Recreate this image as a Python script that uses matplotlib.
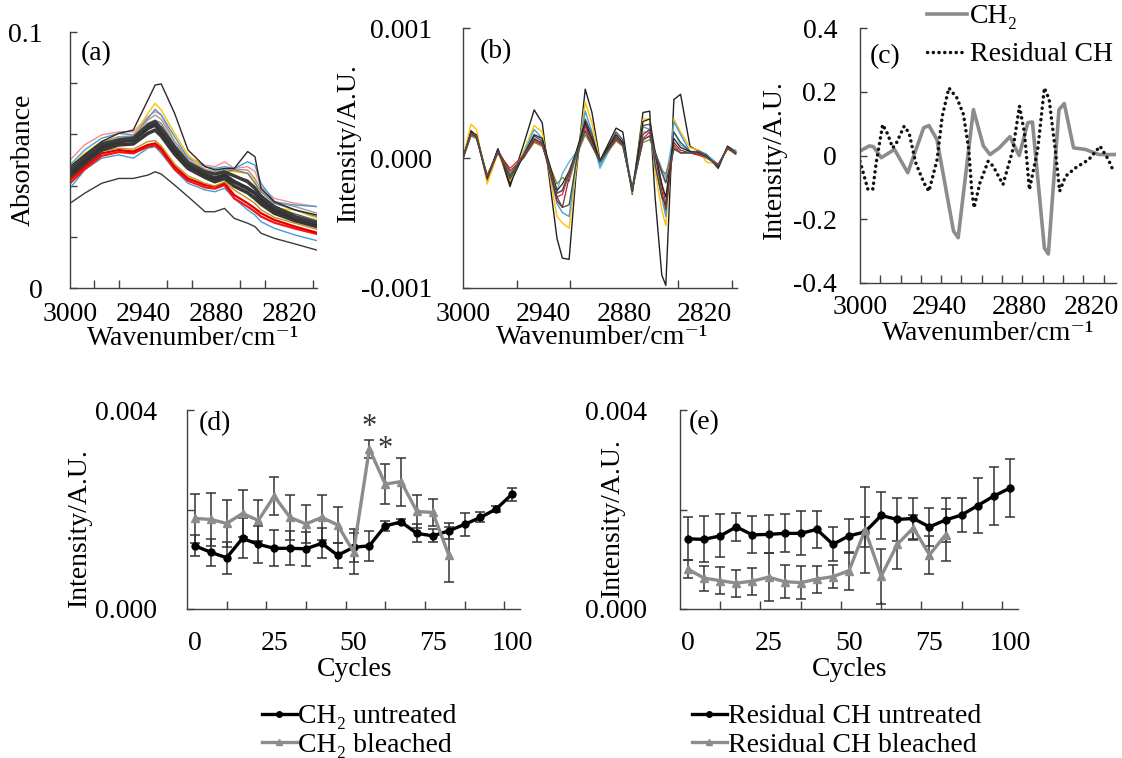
import matplotlib
matplotlib.use('Agg')
import matplotlib.pyplot as plt
import matplotlib.transforms as mtransforms
import numpy as np
from matplotlib.lines import Line2D

plt.rcParams['font.family'] = ['Liberation Serif', 'DejaVu Serif']
plt.rcParams['font.size'] = 20

# ---------------- (a) absorbance spectra ----------------
a_wn = [3000, 2988, 2974, 2960, 2948, 2936, 2930, 2925, 2914, 2903,
        2889, 2881, 2873, 2865, 2854, 2848, 2843, 2832, 2815, 2797]
a_black_top = [0.0474, 0.0520, 0.0572, 0.0604, 0.0617, 0.0734, 0.0793, 0.0797, 0.0682, 0.0539,
               0.0474, 0.0461, 0.0467, 0.0467, 0.0533, 0.0513, 0.0389, 0.0337, 0.0305, 0.0285]
a_pink = [0.0500, 0.0559, 0.0598, 0.0610, 0.0610, 0.0669, 0.0689, 0.0676, 0.0572, 0.0513,
          0.0480, 0.0474, 0.0493, 0.0467, 0.0474, 0.0455, 0.0396, 0.0350, 0.0331, 0.0318]
a_yellow = [0.0474, 0.0526, 0.0572, 0.0591, 0.0591, 0.0682, 0.0721, 0.0695, 0.0604, 0.0520,
            0.0461, 0.0448, 0.0461, 0.0454, 0.0448, 0.0422, 0.0337, 0.0311, 0.0305, 0.0272]
a_blue_top = [0.0480, 0.0539, 0.0585, 0.0604, 0.0598, 0.0663, 0.0698, 0.0676, 0.0591, 0.0507,
              0.0474, 0.0467, 0.0474, 0.0467, 0.0493, 0.0480, 0.0409, 0.0337, 0.0324, 0.0318]
a_gray_1 = [0.0461, 0.0513, 0.0559, 0.0585, 0.0591, 0.0643, 0.0656, 0.0643, 0.0559, 0.0493,
            0.0454, 0.0448, 0.0454, 0.0461, 0.0448, 0.0409, 0.0376, 0.0331, 0.0305, 0.0279]
a_gray_2 = [0.0454, 0.0507, 0.0555, 0.0576, 0.0581, 0.0630, 0.0643, 0.0628, 0.0549, 0.0484,
            0.0445, 0.0435, 0.0445, 0.0438, 0.0422, 0.0396, 0.0363, 0.0318, 0.0289, 0.0263]
a_gray_3 = [0.0467, 0.0520, 0.0568, 0.0591, 0.0594, 0.0656, 0.0676, 0.0659, 0.0572, 0.0500,
            0.0464, 0.0454, 0.0464, 0.0464, 0.0461, 0.0428, 0.0383, 0.0337, 0.0318, 0.0292]
a_black_1 = [0.0448, 0.0500, 0.0552, 0.0572, 0.0578, 0.0624, 0.0637, 0.0611, 0.0539, 0.0480,
             0.0441, 0.0428, 0.0441, 0.0415, 0.0389, 0.0370, 0.0344, 0.0305, 0.0272, 0.0246]
a_black_2 = [0.0461, 0.0510, 0.0563, 0.0578, 0.0585, 0.0637, 0.0650, 0.0624, 0.0552, 0.0490,
             0.0454, 0.0445, 0.0454, 0.0438, 0.0415, 0.0389, 0.0359, 0.0318, 0.0279, 0.0255]
a_black_3 = [0.0435, 0.0487, 0.0539, 0.0559, 0.0563, 0.0604, 0.0617, 0.0594, 0.0523, 0.0467,
             0.0432, 0.0415, 0.0428, 0.0398, 0.0372, 0.0350, 0.0328, 0.0292, 0.0263, 0.0240]
a_red_1 = [0.0422, 0.0474, 0.0526, 0.0539, 0.0533, 0.0559, 0.0565, 0.0546, 0.0474, 0.0428,
           0.0402, 0.0396, 0.0409, 0.0363, 0.0331, 0.0311, 0.0292, 0.0266, 0.0240, 0.0216]
a_red_2 = [0.0409, 0.0464, 0.0516, 0.0531, 0.0526, 0.0552, 0.0557, 0.0536, 0.0464, 0.0419,
           0.0393, 0.0388, 0.0402, 0.0350, 0.0318, 0.0298, 0.0279, 0.0255, 0.0232, 0.0211]
a_orange = [0.0428, 0.0484, 0.0533, 0.0546, 0.0542, 0.0572, 0.0576, 0.0555, 0.0484, 0.0438,
            0.0409, 0.0398, 0.0415, 0.0383, 0.0350, 0.0331, 0.0305, 0.0276, 0.0253, 0.0229]
a_blue_low = [0.0389, 0.0461, 0.0507, 0.0520, 0.0507, 0.0546, 0.0552, 0.0526, 0.0461, 0.0409,
              0.0383, 0.0376, 0.0390, 0.0350, 0.0305, 0.0285, 0.0259, 0.0233, 0.0207, 0.0185]
a_black_low = [0.0331, 0.0370, 0.0409, 0.0428, 0.0428, 0.0441, 0.0454, 0.0445, 0.0402, 0.0357,
               0.0298, 0.0298, 0.0311, 0.0272, 0.0253, 0.0240, 0.0214, 0.0194, 0.0172, 0.0148]

# ---------------- (b) second derivative spectra (x 0.001) ----------------
b_wn = [3000, 2994, 2990, 2982, 2974, 2965, 2955, 2947, 2941, 2930, 2926, 2921, 2916, 2909, 2904, 2898,
        2886, 2881, 2874, 2866, 2861, 2857, 2852, 2849, 2843, 2838, 2831, 2824, 2819, 2810, 2803, 2797]
b_black_big = [0, 0.21, 0.17, -0.17, 0.07, -0.22, 0.10, 0.37, 0.27, -0.62, -0.77, -0.78, -0.15, 0.53, 0.35, -0.02,
               0.23, 0.20, -0.28, 0.35, 0.36, -0.30, -0.90, -0.98, 0.45, 0.49, 0.09, 0.05, 0.03, -0.08, 0.09, 0.05]
b_yellow = [0, 0.26, 0.22, -0.20, 0.04, -0.18, 0.05, 0.25, 0.20, -0.45, -0.50, -0.54, -0.10, 0.43, 0.27, -0.03,
            0.17, 0.12, -0.27, 0.30, 0.30, -0.10, -0.40, -0.52, 0.30, 0.20, 0.08, 0.06, -0.03, -0.05, 0.07, 0.03]
b_blue = [0, 0.18, 0.16, -0.16, 0.05, -0.14, 0.03, 0.22, 0.15, -0.35, -0.42, -0.45, -0.05, 0.36, 0.20, -0.06,
          0.17, 0.12, -0.26, 0.24, 0.22, -0.05, -0.30, -0.45, 0.28, 0.18, 0.05, 0.05, 0.03, -0.05, 0.08, 0.06]
b_gray_main = [0, 0.19, 0.17, -0.14, 0.05, -0.14, 0.02, 0.15, 0.11, -0.27, -0.25, -0.11, 0.02, 0.21, 0.10, -0.03,
               0.15, 0.10, -0.24, 0.14, 0.17, 0.04, -0.11, -0.19, 0.07, 0.04, 0.04, 0.05, 0.01, -0.06, 0.08, 0.04]
b_red = [0, 0.18, 0.16, -0.16, 0.04, -0.08, 0.02, 0.13, 0.10, -0.30, -0.28, -0.12, 0.03, 0.24, 0.12, -0.02,
         0.14, 0.10, -0.25, 0.15, 0.20, 0.05, -0.20, -0.35, 0.10, 0.04, 0.04, 0.02, 0.01, -0.05, 0.07, 0.04]
b_darkred = [0, 0.20, 0.18, -0.15, 0.06, -0.10, 0.00, 0.14, 0.12, -0.33, -0.38, -0.15, 0.03, 0.26, 0.13, -0.02,
             0.16, 0.11, -0.25, 0.18, 0.22, 0.02, -0.25, -0.40, 0.12, 0.06, 0.04, 0.03, 0.01, -0.06, 0.08, 0.03]
b_black_2 = [0, 0.20, 0.17, -0.15, 0.07, -0.20, 0.02, 0.18, 0.15, -0.25, -0.20, -0.10, 0.04, 0.28, 0.15, -0.02,
             0.18, 0.12, -0.25, 0.28, 0.30, 0.05, -0.20, -0.30, 0.15, 0.08, 0.05, 0.04, 0.02, -0.07, 0.09, 0.04]
b_olive = [0, 0.17, 0.15, -0.13, 0.04, -0.12, 0.00, 0.12, 0.09, -0.20, -0.15, -0.18, 0.00, 0.18, 0.09, -0.03,
           0.13, 0.09, -0.22, 0.12, 0.14, 0.05, -0.10, -0.12, 0.08, 0.04, 0.04, 0.02, 0.00, -0.05, 0.07, 0.03]
b_blue_2 = [0, 0.17, 0.15, -0.14, 0.05, -0.12, 0.00, 0.14, 0.10, -0.25, -0.12, -0.03, 0.04, 0.25, 0.15, -0.08,
            0.16, 0.12, -0.22, 0.20, 0.20, 0.05, -0.08, -0.15, 0.20, 0.10, 0.05, 0.04, 0.03, -0.05, 0.08, 0.05]
b_black_3 = [0, 0.19, 0.16, -0.15, 0.06, -0.16, 0.02, 0.17, 0.13, -0.30, -0.38, -0.36, -0.05, 0.30, 0.18, -0.03,
             0.20, 0.14, -0.26, 0.25, 0.26, -0.05, -0.30, -0.36, 0.20, 0.12, 0.05, 0.04, 0.02, -0.07, 0.09, 0.04]

# ---------------- (c) loading spectra ----------------
c_ch2_wn = [3000, 2993, 2990, 2984, 2974, 2964, 2952, 2948, 2942, 2929.5, 2926, 2914.5, 2907, 2902,
            2895, 2887, 2880, 2873.5, 2870, 2861, 2858, 2850, 2846, 2839, 2830, 2820, 2808]
c_ch2 = [0.014, 0.030, 0.028, -0.007, 0.019, -0.054, 0.087, 0.094, 0.050, -0.237, -0.258, 0.144, 0.030, 0.003,
         0.024, 0.059, 0.000, 0.103, 0.105, -0.290, -0.309, 0.144, 0.163, 0.024, 0.019, 0.003, 0.003]
c_res_wn = [3000, 2996.5, 2994, 2990.3, 2987.8, 2982.9, 2979, 2975.4, 2973, 2966.7, 2963, 2958, 2951.8, 2948,
            2941.9, 2938, 2933, 2927, 2922, 2918, 2915.8, 2914, 2909.6, 2903.4, 2899.7, 2892.2, 2884.7, 2879.8,
            2876, 2872.3, 2866, 2861, 2857.4, 2852.5, 2849.5, 2845, 2837.6, 2827.6, 2819, 2812.7, 2810]
c_res = [-0.018, -0.070, -0.107, -0.105, -0.023, 0.097, 0.066, 0.024, 0.035, 0.092, 0.071, -0.023, -0.086, -0.112,
         -0.013, 0.123, 0.212, 0.181, 0.129, 0.019, -0.107, -0.164, -0.086, -0.018, -0.033, -0.091, 0.019, 0.155,
         0.071, -0.107, 0.019, 0.212, 0.176, 0.008, -0.112, -0.065, -0.039, -0.013, 0.029, -0.013, -0.039]

# ---------------- (d), (e) intensity vs cycles (x 0.001) ----------------
cycles = [0, 5, 10, 15, 20, 25, 30, 35, 40, 45, 50, 55, 60, 65, 70, 75, 80, 85, 90, 95, 100]
cycles_bleached = cycles[:17]
d_untreated = [1.27, 1.14, 1.03, 1.42, 1.30, 1.22, 1.22, 1.21, 1.32, 1.08, 1.24, 1.27, 1.67, 1.75,
               1.52, 1.47, 1.57, 1.70, 1.84, 2.01, 2.31]
d_untreated_err = [0.21, 0.27, 0.32, 0.40, 0.37, 0.36, 0.34, 0.34, 0.30, 0.25, 0.29, 0.30, 0.10, 0.05,
                   0.18, 0.13, 0.16, 0.23, 0.10, 0.07, 0.13]
d_bleached = [1.82, 1.80, 1.72, 1.92, 1.78, 2.27, 1.84, 1.71, 1.84, 1.69, 1.15, 3.22, 2.51, 2.56, 1.96, 1.94, 1.09]
d_bleached_err = [0.49, 0.54, 0.47, 0.48, 0.42, 0.39, 0.45, 0.38, 0.45, 0.36, 0.45, 0.18, 0.40, 0.48, 0.34, 0.27, 0.55]
e_untreated = [1.41, 1.40, 1.47, 1.65, 1.49, 1.50, 1.52, 1.52, 1.60, 1.30, 1.47, 1.55, 1.88, 1.80,
               1.82, 1.65, 1.79, 1.89, 2.08, 2.27, 2.43]
e_untreated_err = [0.43, 0.46, 0.43, 0.28, 0.37, 0.38, 0.38, 0.44, 0.37, 0.34, 0.34, 0.30, 0.48, 0.44,
                   0.42, 0.39, 0.45, 0.35, 0.55, 0.59, 0.58]
e_bleached = [0.80, 0.62, 0.57, 0.52, 0.56, 0.64, 0.55, 0.53, 0.60, 0.65, 0.77, 1.59, 0.66, 1.30, 1.63, 1.09, 1.49]
e_bleached_err = [0.18, 0.25, 0.27, 0.27, 0.27, 0.48, 0.33, 0.33, 0.27, 0.23, 0.38, 0.86, 0.55, 0.50, 0.25, 0.38, 0.52]
star_points = [(55, 3.64), (60, 3.20)]

W, H = 1122, 758
fig = plt.figure(figsize=(W / 100, H / 100), dpi=100)
AX_COL = '#404040'
WN_LABEL = 'Wavenumber/cm\u207b\u00b9'


def add_ax(left, top, right, bottom):
    return fig.add_axes([left / W, 1 - bottom / H, (right - left) / W, (bottom - top) / H])


def ftext(x, y, s, **kw):
    fig.text(x / W, 1 - y / H, s, ha=kw.pop('ha', 'center'), va=kw.pop('va', 'center'), **kw)


def style(ax, ypad, xpad):
    for s in ['top', 'right']:
        ax.spines[s].set_visible(False)
    for s in ['left', 'bottom']:
        ax.spines[s].set_color(AX_COL)
        ax.spines[s].set_linewidth(1)
    ax.tick_params(which='both', direction='in', color=AX_COL, width=1, labelsize=20)
    ax.tick_params(axis='y', which='major', length=5, pad=ypad)
    ax.tick_params(axis='x', which='major', length=0, pad=xpad)
    ax.tick_params(axis='x', which='minor', length=6)


def wn_axis(ax, x_end, tick_step):
    ax.set_xlim(3000, x_end)
    ax.set_xticks([3000, 2940, 2880, 2820])
    ax.set_xticklabels(['3000', '2940', '2880', '2820'])
    ax.set_xticks(np.arange(3000 - tick_step, x_end - 0.1, -tick_step), minor=True)


# (a)
ax_a = add_ax(70, 32, 317, 288)
a_lines = [(a_black_low, '#3a3a3a', 1.0), (a_blue_low, '#3f9fd6', 1.0), (a_red_2, '#ff1010', 1.6),
           (a_red_1, '#e00000', 1.6), (a_orange, '#c8901e', 1.0), (a_pink, '#ff8a8a', 1.0),
           (a_blue_top, '#3f9fd6', 1.0), (a_yellow, '#ffc000', 1.0), (a_gray_3, '#9a9a9a', 1.0),
           (a_gray_1, '#7a7a7a', 1.0), (a_gray_2, '#555555', 1.0), (a_black_top, '#2a2a2a', 1.0),
           (a_black_3, '#383838', 2.6), (a_black_1, '#333333', 2.8), (a_black_2, '#3c3c3c', 2.4)]
for vals, col, lw in a_lines:
    ax_a.plot(a_wn, vals, color=col, lw=lw)
ax_a.set_ylim(0, 0.1)
ax_a.set_yticks([0, 0.02, 0.04, 0.06, 0.08, 0.1])
ax_a.set_yticklabels(['0', '', '', '', '', '0.1'])
wn_axis(ax_a, 2797, 20)
style(ax_a, 19.5, 10)

# (b)
ax_b = add_ax(463, 28, 737, 288)
b_lines = [(b_black_big, '#222222', 1.0), (b_yellow, '#ffc000', 1.0), (b_blue, '#3f9fd6', 1.0),
           (b_blue_2, '#5aaee0', 0.9), (b_olive, '#8c7a2a', 0.9), (b_red, '#e8202a', 0.9),
           (b_darkred, '#8b2a2a', 0.9), (b_black_3, '#444444', 0.9), (b_black_2, '#222222', 0.9),
           (b_gray_main, '#505050', 1.2)]
for vals, col, lw in b_lines:
    ax_b.plot(b_wn, np.array(vals) * 1e-3, color=col, lw=lw)
ax_b.set_ylim(-0.001, 0.001)
ax_b.set_yticks([-0.001, 0, 0.001])
ax_b.set_yticklabels(['-0.001', '0.000', '0.001'])
wn_axis(ax_b, 2796, 40)
style(ax_b, 22, 10)

# (c)
ax_c = add_ax(860, 28, 1116, 283)
l1, = ax_c.plot(c_ch2_wn, c_ch2, color='#8c8c8c', lw=2.6, solid_joinstyle='round')
l2, = ax_c.plot(c_res_wn, c_res, color='#111111', lw=2.5, linestyle=(0, (0.05, 1.6)),
                dash_capstyle='round')
ax_c.set_ylim(-0.4, 0.4)
ax_c.set_yticks([-0.4, -0.2, 0, 0.2, 0.4])
ax_c.set_yticklabels(['-0.4', '-0.2', '0', '0.2', '0.4'])
wn_axis(ax_c, 2807, 15.3)
style(ax_c, 16.5, 9)
# keep the last wavenumber label inside the figure, as in the original
last_lab = ax_c.get_xticklabels()[-1]
last_lab.set_transform(last_lab.get_transform() +
                       mtransforms.ScaledTranslation(-7 / 100, 0, fig.dpi_scale_trans))
fig.legend([l1, l2], ['CH\u2082', 'Residual CH'], loc='upper left',
           bbox_to_anchor=(927 / W, 1 - 4 / H), frameon=False, borderpad=0, borderaxespad=0,
           handlelength=1.45, handletextpad=0.08, labelspacing=0.45, fontsize=20)


def cycle_axis(ax):
    ax.set_xlim(-2.5, 102.5)
    ax.set_xticks([0, 25, 50, 75, 100])
    ax.set_xticks(np.arange(10, 100, 12.5), minor=True)
    ax.set_ylim(0, 0.004)
    ax.set_yticks([0, 0.002, 0.004])
    ax.set_yticklabels(['0.000', '', '0.004'])


eb_kw = dict(ecolor='#333333', elinewidth=1.1, capsize=3.5, capthick=1.1)


def cycle_panel(ax, unt, unt_err, ble, ble_err):
    ax.errorbar(cycles, np.array(unt) * 1e-3, yerr=np.array(unt_err) * 1e-3, color='black',
                marker='o', ms=5, lw=2.4, **eb_kw)
    ax.errorbar(cycles_bleached, np.array(ble) * 1e-3, yerr=np.array(ble_err) * 1e-3, color='#8c8c8c',
                marker='^', ms=6, lw=2.4, **eb_kw)
    cycle_axis(ax)


# (d)
ax_d = add_ax(187, 410, 520, 609)
cycle_panel(ax_d, d_untreated, d_untreated_err, d_bleached, d_bleached_err)
style(ax_d, 21.5, 16)
for cx, cy in star_points:
    ax_d.text(cx, cy * 1e-3, '*', ha='center', va='center', fontsize=22, color='#333333')

# (e)
ax_e = add_ax(680, 410, 1018, 609)
cycle_panel(ax_e, e_untreated, e_untreated_err, e_bleached, e_bleached_err)
style(ax_e, 23.5, 16)

h_unt = Line2D([], [], color='black', marker='o', ms=4, lw=2.4)
h_ble = Line2D([], [], color='#8c8c8c', marker='^', ms=5, lw=2.4)
leg_kw = dict(loc='upper left', frameon=False, borderpad=0, borderaxespad=0, handlelength=1.25,
              handletextpad=0.05, labelspacing=0.1, fontsize=20, numpoints=1)
fig.legend([h_unt, h_ble], ['CH\u2082 untreated', 'CH\u2082 bleached'],
           bbox_to_anchor=(262 / W, 1 - 704 / H), **leg_kw)
fig.legend([h_unt, h_ble], ['Residual CH untreated', 'Residual CH bleached'],
           bbox_to_anchor=(692 / W, 1 - 704 / H), **leg_kw)

# axis titles and panel letters
ftext(23, 160, 'Absorbance', rotation=90)
ftext(348, 143, 'Intensity/A.U.', rotation=90)
ftext(774, 160, 'Intensity/A.U.', rotation=90)
ftext(79, 528, 'Intensity/A.U.', rotation=90)
ftext(612, 518, 'Intensity/A.U.', rotation=90)
ftext(193, 339, WN_LABEL)
ftext(602, 338, WN_LABEL)
ftext(988, 334, WN_LABEL)
ftext(355, 670, 'Cycles')
ftext(850, 670, 'Cycles')
ftext(96, 54, '(a)')
ftext(496, 52, '(b)')
ftext(885, 57, '(c)')
ftext(215, 424, '(d)')
ftext(704, 423, '(e)')

fig.savefig('out.png', dpi=100)
